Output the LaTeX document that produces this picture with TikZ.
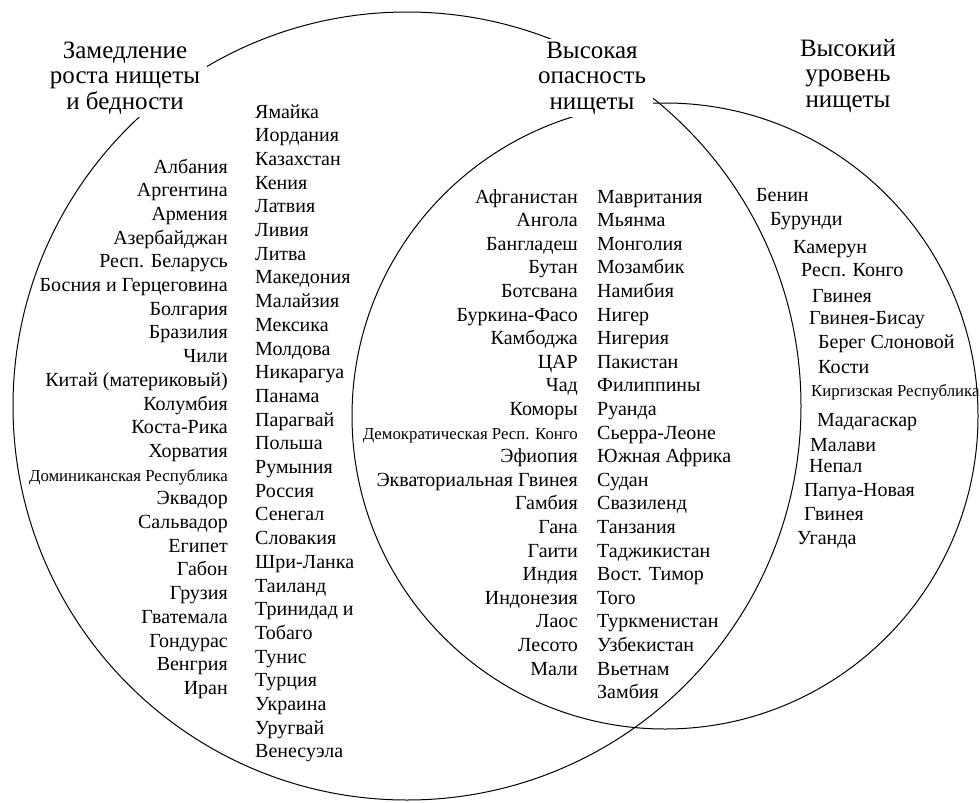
\documentclass[tikz,border=0pt]{standalone}
\usepackage{fontspec}
\setmainfont{Liberation Serif}
\usetikzlibrary{positioning}
\tikzset{
  ttl/.style={align=center,fill=white,inner xsep=7pt,inner ysep=3pt,font=\fontsize{25}{25.5}\selectfont},
  ttlplain/.style={align=center,font=\fontsize{25}{25.5}\selectfont},
  cty/.style={inner sep=0pt,font=\fontsize{20}{24}\selectfont},
  ctysmall/.style={inner sep=0pt,font=\fontsize{16.8}{20}\selectfont},
  lft/.style={cty,anchor=base east},
  rgt/.style={cty,anchor=base west}
}
\begin{document}
\begin{tikzpicture}[line cap=round,line join=round,x=1pt,y=-1pt]
\useasboundingbox (0,0) rectangle (980,803);
% the two sets
\draw [line width=1pt] (407,406) circle (394pt);
\draw [line width=1pt] (665,416) circle (313pt);
% titles
\node[ttl] (tslow) at (125,78) {Замедление\\роста нищеты\\и бедности};
\node[ttl] (trisk) at (592,78) {Высокая\\опасность\\нищеты};
\node[ttlplain] (thigh) at (848,76) {Высокий\\уровень\\нищеты};
% slowing: first column
\node[lft] (s1) at (228,173) {Албания};
\node[lft] (s2) at (228,196.7) {Аргентина};
\node[lft] (s3) at (228,220.4) {Армения};
\node[lft] (s4) at (228,244.1) {Азербайджан};
\node[lft] (s5) at (228,267.8) {Респ. Беларусь};
\node[lft] (s6) at (228,291.5) {Босния и Герцеговина};
\node[lft] (s7) at (228,315.2) {Болгария};
\node[lft] (s8) at (228,338.9) {Бразилия};
\node[lft] (s9) at (228,362.6) {Чили};
\node[lft] (s10) at (228,386.3) {Китай (материковый)};
\node[lft] (s11) at (228,410) {Колумбия};
\node[lft] (s12) at (228,433.7) {Коста-Рика};
\node[lft] (s13) at (228,457.4) {Хорватия};
\node[ctysmall,anchor=base east] (s14) at (228,481.1) {Доминиканская Республика};
\node[lft] (s15) at (228,504.8) {Эквадор};
\node[lft] (s16) at (228,528.5) {Сальвадор};
\node[lft] (s17) at (228,552.2) {Египет};
\node[lft] (s18) at (228,575.9) {Габон};
\node[lft] (s19) at (228,599.6) {Грузия};
\node[lft] (s20) at (228,623.3) {Гватемала};
\node[lft] (s21) at (228,647) {Гондурас};
\node[lft] (s22) at (228,670.7) {Венгрия};
\node[lft] (s23) at (228,694.4) {Иран};
% slowing: second column
\node[rgt] (t1) at (255,118) {Ямайка};
\node[rgt] (t2) at (255,141.7) {Иордания};
\node[rgt] (t3) at (255,165.4) {Казахстан};
\node[rgt] (t4) at (255,189.1) {Кения};
\node[rgt] (t5) at (255,212.8) {Латвия};
\node[rgt] (t6) at (255,236.5) {Ливия};
\node[rgt] (t7) at (255,260.2) {Литва};
\node[rgt] (t8) at (255,283.9) {Македония};
\node[rgt] (t9) at (255,307.6) {Малайзия};
\node[rgt] (t10) at (255,331.3) {Мексика};
\node[rgt] (t11) at (255,355) {Молдова};
\node[rgt] (t12) at (255,378.7) {Никарагуа};
\node[rgt] (t13) at (255,402.4) {Панама};
\node[rgt] (t14) at (255,426.1) {Парагвай};
\node[rgt] (t15) at (255,449.8) {Польша};
\node[rgt] (t16) at (255,473.5) {Румыния};
\node[rgt] (t17) at (255,497.2) {Россия};
\node[rgt] (t18) at (255,520.9) {Сенегал};
\node[rgt] (t19) at (255,544.6) {Словакия};
\node[rgt] (t20) at (255,568.3) {Шри-Ланка};
\node[rgt] (t21) at (255,592) {Таиланд};
\node[rgt] (t22) at (255,615.7) {Тринидад и};
\node[rgt] (t23) at (255,639.4) {Тобаго};
\node[rgt] (t24) at (255,663.1) {Тунис};
\node[rgt] (t25) at (255,686.8) {Турция};
\node[rgt] (t26) at (255,710.5) {Украина};
\node[rgt] (t27) at (255,734.2) {Уругвай};
\node[rgt] (t28) at (255,757.9) {Венесуэла};
% high risk: first column
\node[lft] (r1) at (578,203) {Афганистан};
\node[lft] (r2) at (578,226.6) {Ангола};
\node[lft] (r3) at (578,250.2) {Бангладеш};
\node[lft] (r4) at (578,273.8) {Бутан};
\node[lft] (r5) at (578,297.4) {Ботсвана};
\node[lft] (r6) at (578,321) {Буркина-Фасо};
\node[lft] (r7) at (578,344.6) {Камбоджа};
\node[lft] (r8) at (578,368.2) {ЦАР};
\node[lft] (r9) at (578,391.8) {Чад};
\node[lft] (r10) at (578,415.4) {Коморы};
\node[ctysmall,anchor=base east] (r11) at (578,439) {Демократическая Респ. Конго};
\node[lft] (r12) at (578,462.6) {Эфиопия};
\node[lft] (r13) at (578,486.2) {Экваториальная Гвинея};
\node[lft] (r14) at (578,509.8) {Гамбия};
\node[lft] (r15) at (578,533.4) {Гана};
\node[lft] (r16) at (578,557) {Гаити};
\node[lft] (r17) at (578,580.6) {Индия};
\node[lft] (r18) at (578,604.2) {Индонезия};
\node[lft] (r19) at (578,627.8) {Лаос};
\node[lft] (r20) at (578,651.4) {Лесото};
\node[lft] (r21) at (578,675) {Мали};
% high risk: second column
\node[rgt] (m1) at (597,203) {Мавритания};
\node[rgt] (m2) at (597,226.6) {Мьянма};
\node[rgt] (m3) at (597,250.2) {Монголия};
\node[rgt] (m4) at (597,273.8) {Мозамбик};
\node[rgt] (m5) at (597,297.4) {Намибия};
\node[rgt] (m6) at (597,321) {Нигер};
\node[rgt] (m7) at (597,344.6) {Нигерия};
\node[rgt] (m8) at (597,368.2) {Пакистан};
\node[rgt] (m9) at (597,391.8) {Филиппины};
\node[rgt] (m10) at (597,415.4) {Руанда};
\node[rgt] (m11) at (597,439) {Сьерра-Леоне};
\node[rgt] (m12) at (597,462.6) {Южная Африка};
\node[rgt] (m13) at (597,486.2) {Судан};
\node[rgt] (m14) at (597,509.8) {Свазиленд};
\node[rgt] (m15) at (597,533.4) {Танзания};
\node[rgt] (m16) at (597,557) {Таджикистан};
\node[rgt] (m17) at (597,580.6) {Вост. Тимор};
\node[rgt] (m18) at (597,604.2) {Того};
\node[rgt] (m19) at (597,627.8) {Туркменистан};
\node[rgt] (m20) at (597,651.4) {Узбекистан};
\node[rgt] (m21) at (597,675) {Вьетнам};
\node[rgt] (m22) at (597,698.6) {Замбия};
% high level
\node[rgt] (h1) at (756,201) {Бенин};
\node[rgt] (h2) at (770,225) {Бурунди};
\node[rgt] (h3) at (793,253) {Камерун};
\node[rgt] (h4) at (801,276) {Респ. Конго};
\node[rgt] (h5) at (812,302) {Гвинея};
\node[rgt] (h6) at (809,324) {Гвинея-Бисау};
\node[rgt] (h7) at (818,348) {Берег Слоновой};
\node[rgt] (h8) at (818,373) {Кости};
\node[ctysmall,anchor=base west] (h9) at (811,396) {Киргизская Республика};
\node[rgt] (h10) at (817,426) {Мадагаскар};
\node[rgt] (h11) at (810,451) {Малави};
\node[rgt] (h12) at (809,472) {Непал};
\node[rgt] (h13) at (804,496) {Папуа-Новая};
\node[rgt] (h14) at (804,520) {Гвинея};
\node[rgt] (h15) at (797,544) {Уганда};
\end{tikzpicture}
\end{document}
